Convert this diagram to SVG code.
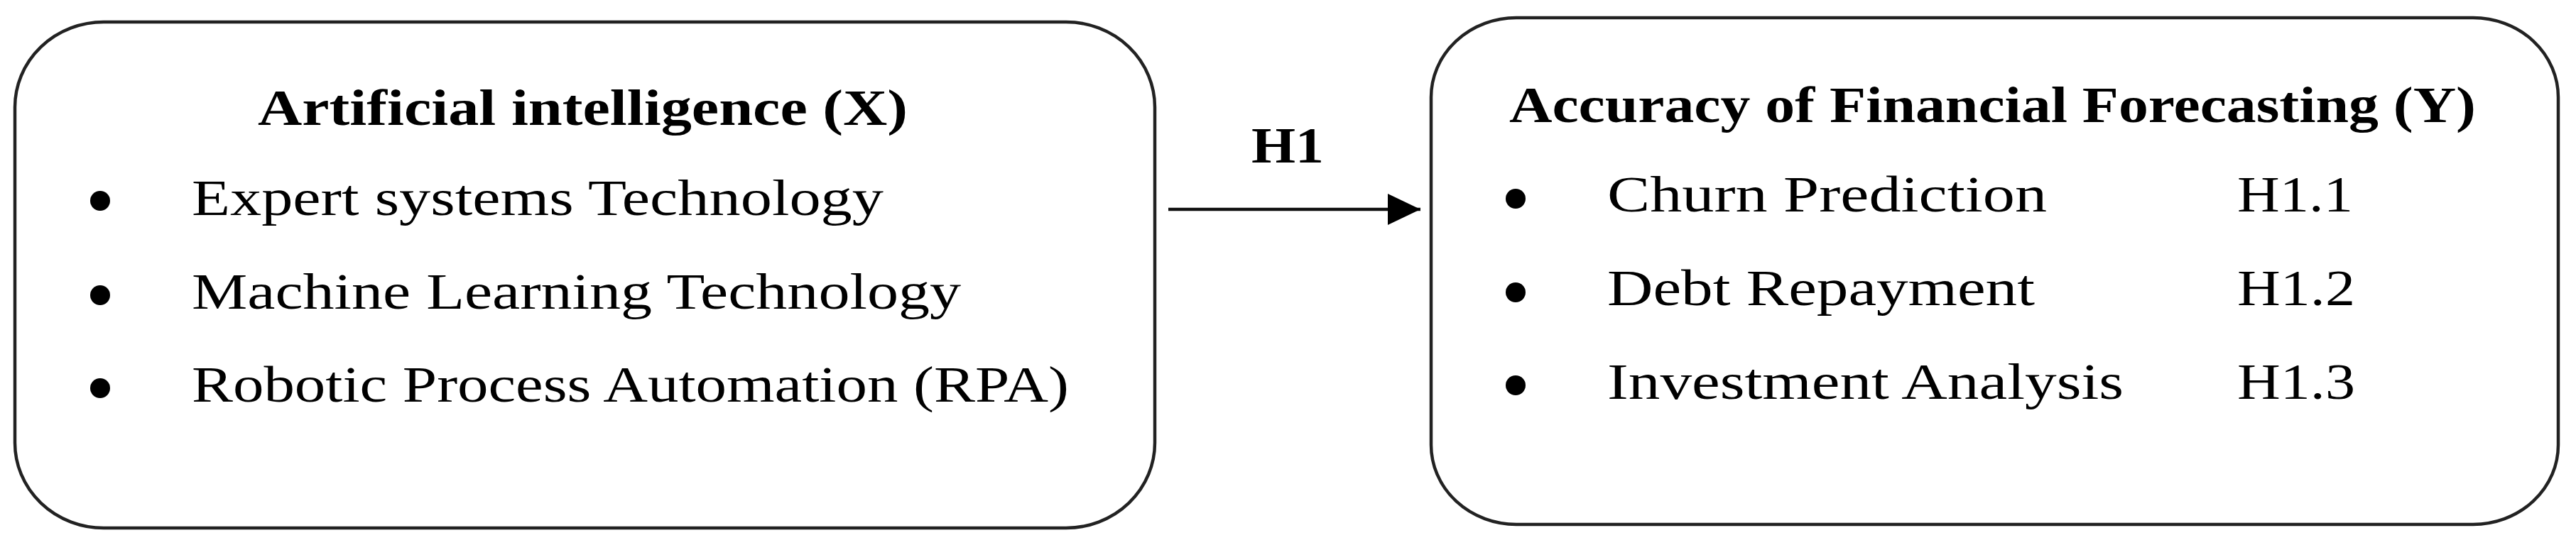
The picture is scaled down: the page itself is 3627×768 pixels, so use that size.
<svg xmlns="http://www.w3.org/2000/svg" width="3627" height="768" viewBox="0 0 3627 768">
<defs>
<style>
.box{fill:#fff;stroke:#222;stroke-width:4.5}
.t{font-family:"Liberation Serif","Times New Roman",serif;font-size:72px;fill:#000}
.b{font-weight:bold}
.dot{fill:#000}
.conn{stroke:#111;stroke-width:4.5;fill:none}
</style>
<marker id="ah" markerUnits="userSpaceOnUse" markerWidth="50" markerHeight="46" refX="46" refY="22" orient="auto">
<path d="M0,0 L46,22 L0,44 Z" fill="#000"/>
</marker>
</defs>
<rect width="3627" height="768" fill="#fff"/>
<g id="node-ai">
<rect class="box" x="21" y="31" width="1605" height="713" rx="125" ry="120"/>
<text class="t b" x="363" y="176" textLength="915" lengthAdjust="spacingAndGlyphs">Artificial intelligence (X)</text>
<circle class="dot" cx="141" cy="283" r="14"/>
<text class="t" x="270" y="303" textLength="974" lengthAdjust="spacingAndGlyphs">Expert systems Technology</text>
<circle class="dot" cx="141" cy="416" r="14"/>
<text class="t" x="270" y="435" textLength="1083" lengthAdjust="spacingAndGlyphs">Machine Learning Technology</text>
<circle class="dot" cx="141" cy="547" r="14"/>
<text class="t" x="270" y="566" textLength="1235" lengthAdjust="spacingAndGlyphs">Robotic Process Automation (RPA)</text>
</g>
<g id="node-forecast">
<rect class="box" x="2015" y="25" width="1587" height="714" rx="120" ry="112"/>
<text class="t b" x="2125" y="172" textLength="1361" lengthAdjust="spacingAndGlyphs">Accuracy of Financial Forecasting (Y)</text>
<circle class="dot" cx="2134" cy="280" r="14"/>
<text class="t" x="2263" y="298" textLength="619" lengthAdjust="spacingAndGlyphs">Churn Prediction</text>
<text class="t" x="3150" y="298" textLength="163" lengthAdjust="spacingAndGlyphs">H1.1</text>
<circle class="dot" cx="2134" cy="412" r="14"/>
<text class="t" x="2263" y="430" textLength="602" lengthAdjust="spacingAndGlyphs">Debt Repayment</text>
<text class="t" x="3150" y="430" textLength="166" lengthAdjust="spacingAndGlyphs">H1.2</text>
<circle class="dot" cx="2134" cy="543" r="14"/>
<text class="t" x="2263" y="562" textLength="727" lengthAdjust="spacingAndGlyphs">Investment Analysis</text>
<text class="t" x="3150" y="562" textLength="166" lengthAdjust="spacingAndGlyphs">H1.3</text>
</g>
<g id="connectors">
<line class="conn" x1="1645" y1="295" x2="2000" y2="295" marker-end="url(#ah)"/>
<text class="t b" x="1762" y="229" textLength="102" lengthAdjust="spacingAndGlyphs">H1</text>
</g>
</svg>
